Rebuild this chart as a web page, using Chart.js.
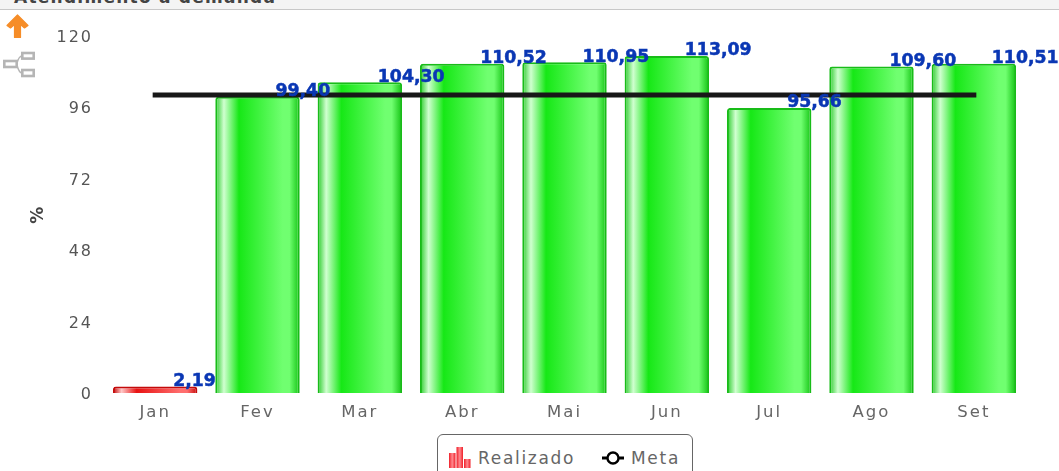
<!DOCTYPE html>
<html lang="pt"><head><meta charset="utf-8">
<script src="https://cdn.jsdelivr.net/npm/chart.js@4"></script>
<style>
html,body{margin:0;padding:0;width:1059px;height:471px;overflow:hidden;background:#fff;font-family:"DejaVu Sans",sans-serif}
#wrap{position:relative;width:1059px;height:471px;overflow:hidden}
canvas{position:absolute;left:0;top:0}
#head{position:absolute;left:0;top:0;width:1059px;height:9px;background:#f4f4f4;border-bottom:1px solid #c8c8c8;overflow:hidden}
#head span{position:absolute;left:14px;top:-13px;font:bold 17px "DejaVu Sans";letter-spacing:1.25px;color:#444;white-space:nowrap}
#legend{position:absolute;left:437px;top:434px;width:254px;height:60px;border:1px solid #666;border-radius:6px;background:#fff;color:#666;font:17px "DejaVu Sans";letter-spacing:1.7px}
#legend span,#legend svg{position:absolute}
.icon{position:absolute}
</style></head><body>
<div id="wrap">
<canvas id="c" width="1059" height="471"></canvas>
<div id="head"><span>Atendimento à demanda</span></div>
<svg class="icon" style="left:3px;top:12px" width="28" height="28" viewBox="0 0 28 28"><path d="M14.5 3 L25 13.5 L21.5 16 L17.5 12.5 L17.5 25.5 L11.5 25.5 L11.5 12.5 L7.5 16 L4 13.5 Z" fill="#f68d28" stroke="#f68d28" stroke-width="1.2" stroke-linejoin="round"/></svg>
<svg class="icon" style="left:2px;top:49px" width="34" height="30" viewBox="0 0 34 30" fill="none" stroke="#b5b5b5" stroke-width="2.6"><rect x="2.3" y="12" width="12.4" height="6"/><rect x="20.3" y="4" width="11.4" height="5.6"/><rect x="20.3" y="21" width="11.4" height="6"/><path d="M15 14 Q17 7 20 7 M15 16 Q17 24 20 24" stroke-width="1.4"/></svg>
<div id="legend">
<svg style="left:11px;top:12px" width="22" height="21" viewBox="0 0 22 21"><defs><linearGradient id="lg"><stop offset="0" stop-color="#f01e28"/><stop offset="0.5" stop-color="#ff8a90"/><stop offset="1" stop-color="#f01e28"/></linearGradient></defs><rect x="0" y="6" width="6.5" height="15" fill="url(#lg)"/><rect x="7.5" y="0" width="6.5" height="21" fill="url(#lg)"/><rect x="15" y="12" width="6.5" height="9" fill="url(#lg)"/></svg>
<span id="l0" style="left:40px;top:13px"></span>
<svg style="left:164px;top:15px" width="22" height="16" viewBox="0 0 22 16"><path d="M0 8H22" stroke="#000" stroke-width="3"/><circle cx="11" cy="8" r="5.5" fill="#fff" stroke="#000" stroke-width="2.4"/></svg>
<span id="l1" style="left:193px;top:13px"></span>
</div>
</div>
<script>
const categories = ["Jan","Fev","Mar","Abr","Mai","Jun","Jul","Ago","Set"];
const realizado = [2.19,99.40,104.30,110.52,110.95,113.09,95.66,109.60,110.51];
const meta = [100,100,100,100,100,100,100,100,100];
const yTicks = [0,24,48,72,96,120];
const seriesNames = ["Realizado","Meta"];
const yTitle = "%";
const redBelow = 50;

document.getElementById('l0').textContent = seriesNames[0];
document.getElementById('l1').textContent = seriesNames[1];

const GREEN = ["#2ccc2c","#d0ffd0","#16e816","#70ff70","#14c414"];
const RED   = ["#c40a0a","#ffc8c8","#e81212","#ff6e6e","#c80a0a"];
function barFill(ctx){
  const ch = ctx.chart;
  if(!ch.chartArea || !ch.scales.x) return GREEN[2];
  const s = ch.scales.x, cx = s.getPixelForValue(ctx.dataIndex), w = 42;
  const g = ch.ctx.createLinearGradient(cx-w,0,cx+w,0);
  const c = realizado[ctx.dataIndex] < redBelow ? RED : GREEN;
  g.addColorStop(0,c[0]); g.addColorStop(0.1,c[1]); g.addColorStop(0.28,c[2]);
  g.addColorStop(0.8,c[3]); g.addColorStop(0.88,c[3]); g.addColorStop(1,c[4]);
  return g;
}
const spacing = {id:'spacing',
  beforeDraw(ch){ch.ctx.letterSpacing='2px';},
  afterDraw(ch){
    const c = ch.ctx, meta0 = ch.getDatasetMeta(1);
    c.save(); c.letterSpacing='0px'; c.font='bold 17.3px "DejaVu Sans"'; c.fillStyle='#0a37b4';
    c.strokeStyle='#0a37b4'; c.lineWidth=0.5;
    c.textAlign='left'; c.textBaseline='alphabetic';
    meta0.data.forEach((el,i)=>{
      const t = realizado[i].toFixed(2).replace('.',',');
      c.fillText(t, el.x+18, el.y-0.5);
      c.strokeText(t, el.x+18, el.y-0.5);
    });
    c.restore();
  }};
new Chart(document.getElementById('c'),{
  type:'bar',
  data:{labels:categories,datasets:[
    {type:'line',label:seriesNames[1],data:meta,borderColor:'#181818',borderWidth:5,borderCapStyle:'square',pointRadius:0,order:0,tension:0},
    {type:'bar',label:seriesNames[0],data:realizado,backgroundColor:barFill,
     borderColor:ctx=>realizado[ctx.dataIndex]<redBelow?'#c40a0a':'#18bc18',borderWidth:2,
     borderRadius:{topLeft:3,topRight:3},borderSkipped:'bottom',barPercentage:0.825,categoryPercentage:1,order:1}
  ]},
  options:{responsive:false,animation:false,
    layout:{padding:{left:0,right:34,top:35.4,bottom:0}},
    plugins:{legend:{display:false},tooltip:{enabled:false}},
    scales:{
      x:{grid:{display:false},border:{display:false},
         ticks:{color:'#666',font:{family:'"DejaVu Sans"',size:16.5},padding:2,maxRotation:0},
         afterFit(s){s.height=78;}},
      y:{min:0,max:120,afterBuildTicks(s){s.ticks=yTicks.map(v=>({value:v}));},
         grid:{display:false},border:{display:false},
         ticks:{color:'#555',font:{family:'"DejaVu Sans"',size:16},padding:3,labelOffset:2,
                callback:v=>v},
         title:{display:true,text:yTitle,color:'#444',font:{family:'"DejaVu Sans"',size:17,weight:'bold'},padding:{top:28,bottom:0}},
         afterFit(s){s.width=104;}}
    }},
  plugins:[spacing]
});
</script>
</body></html>
